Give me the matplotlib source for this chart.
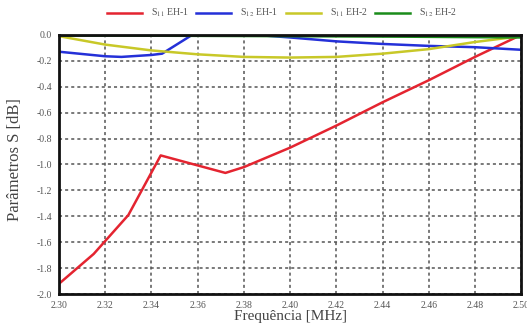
import matplotlib
matplotlib.use("Agg")
import matplotlib.pyplot as plt
import numpy as np

plt.rcParams['font.family'] = ['Liberation Serif', 'DejaVu Serif']
plt.rcParams['mathtext.fontset'] = 'stix'
plt.rcParams['axes.unicode_minus'] = False

# Data
s11_eh1_f = [2.30, 2.315, 2.33, 2.344, 2.372, 2.38, 2.40, 2.42, 2.44, 2.46, 2.48, 2.50]
s11_eh1_v = [-1.92, -1.69, -1.39, -0.93, -1.065, -1.02, -0.87, -0.70, -0.52, -0.35, -0.17, 0.0]

s12_eh1_f = [2.30, 2.32, 2.327, 2.34, 2.3446, 2.3576, 2.37, 2.385, 2.40, 2.42, 2.44, 2.46, 2.48, 2.50]
s12_eh1_v = [-0.13, -0.165, -0.17, -0.155, -0.145, 0.0, 0.0, 0.0, -0.02, -0.05, -0.07, -0.085, -0.095, -0.115]

s11_eh2_f = [2.30, 2.32, 2.34, 2.36, 2.38, 2.40, 2.42, 2.44, 2.46, 2.48, 2.50]
s11_eh2_v = [-0.01, -0.075, -0.12, -0.15, -0.17, -0.175, -0.17, -0.145, -0.11, -0.055, -0.01]

s12_eh2_f = [2.30, 2.35, 2.40, 2.45, 2.50]
s12_eh2_v = [-0.005, -0.007, -0.01, -0.014, -0.02]

labels = [r"S$_{11}$ EH-1", r"S$_{12}$ EH-1", r"S$_{11}$ EH-2", r"S$_{12}$ EH-2"]
colors = ['#e42430', '#2430d8', '#c8c828', '#1a8c1a']

x_ticks = [2.30, 2.32, 2.34, 2.36, 2.38, 2.40, 2.42, 2.44, 2.46, 2.48, 2.50]
y_ticks = [0.0, -0.2, -0.4, -0.6, -0.8, -1.0, -1.2, -1.4, -1.6, -1.8, -2.0]

fig = plt.figure(figsize=(5.27, 3.29), dpi=100)
ax = fig.add_axes([0.112, 0.106, 0.877, 0.788])

series = [(s11_eh1_f, s11_eh1_v), (s12_eh1_f, s12_eh1_v),
          (s11_eh2_f, s11_eh2_v), (s12_eh2_f, s12_eh2_v)]
for (f, v), lab, c in zip(series, labels, colors):
    ax.plot(f, v, color=c, lw=1.8, label=lab, zorder=3)

ax.set_xlim(2.30, 2.50)
ax.set_ylim(-2.0, 0.0)
ax.set_xticks(x_ticks)
ax.set_xticklabels([f"{t:.2f}" for t in x_ticks])
ax.set_yticks(y_ticks)
ax.set_yticklabels([f"{t:.1f}" for t in y_ticks])
ax.tick_params(length=0, labelsize=7, colors='#555555', pad=5)
ax.grid(True, color='#555555', linestyle=(0, (2, 2)), linewidth=1.1)
for s in ax.spines.values():
    s.set_linewidth(2.0)
    s.set_color('#111111')
    s.set_zorder(4)

ax.set_xlabel("Frequência [MHz]", fontsize=11, color='#444444', labelpad=0)
ax.set_ylabel("Parâmetros S [dB]", fontsize=12, color='#444444')
ax.yaxis.set_label_coords(-0.078, 0.52)

fig.legend(loc='center', bbox_to_anchor=(0.535, 0.96), ncol=4, frameon=False,
           fontsize=7, handlelength=3.6, columnspacing=0.8, handletextpad=0.9,
           labelcolor='#555555')

fig.savefig("out.png", dpi=100)
